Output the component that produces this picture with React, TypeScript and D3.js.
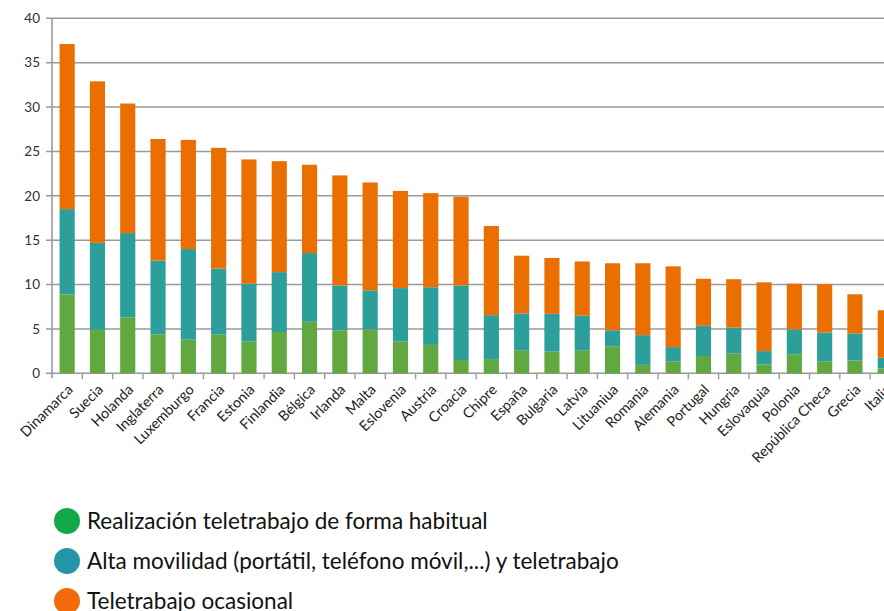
import React from "react";
import * as d3 from "d3";

const countries = ["Dinamarca","Suecia","Holanda","Inglaterra","Luxemburgo","Francia","Estonia","Finlandia","Bélgica","Irlanda","Malta","Eslovenia","Austria","Croacia","Chipre","España","Bulgaria","Latvia","Lituaniua","Romania","Alemania","Portugal","Hungria","Eslovaquia","Polonia","República Checa","Grecia","Italia"];
const habitual = [8.9,4.9,6.3,4.4,3.8,4.4,3.6,4.65,5.8,4.85,4.95,3.6,3.2,1.5,1.6,2.6,2.45,2.6,3.05,0.95,1.35,1.95,2.25,1.0,2.15,1.35,1.45,0.55];
const movilidad = [9.6,9.8,9.5,8.3,10.2,7.4,6.5,6.75,7.75,5.05,4.4,6.0,6.5,8.4,4.95,4.15,4.25,3.9,1.8,3.35,1.6,3.4,2.9,1.5,2.8,3.25,3.05,1.2];
const ocasional = [18.6,18.2,14.6,13.7,12.3,13.6,14.0,12.5,9.95,12.4,12.15,10.95,10.6,10.0,10.05,6.5,6.3,6.1,7.55,8.1,9.1,5.3,5.45,7.75,5.15,5.45,4.4,5.35];
const yTicks = [0,5,10,15,20,25,30,35,40];
const seriesNames = ["Realización teletrabajo de forma habitual","Alta movilidad (portátil, teléfono móvil,...) y teletrabajo","Teletrabajo ocasional"];
const barColors = ["#60a83f","#2d9f9a","#eb6e00"];
const legendColors = ["#12a84a","#2295a6","#f36a0a"];

export default function App() {
  const W = 884, H = 611;
  const x0 = 52, step = 30.3;
  const x = d3.scaleBand<string>().domain(countries).range([x0, x0 + countries.length * step]).paddingInner(0.5).paddingOuter(0.25);
  const y = d3.scaleLinear().domain([0, 40]).range([373.3, 18.3]);
  const rows = countries.map((c, i) => ({ c, habitual: habitual[i], movilidad: movilidad[i], ocasional: ocasional[i] }));
  const stack = d3.stack<any>().keys(["habitual","movilidad","ocasional"]);
  const series = stack(rows);
  const font = "Lato, 'Open Sans', sans-serif";
  return (
    <svg width={W} height={H} style={{ position: "absolute", left: 0, top: 0, background: "#fff" }} fontFamily={font}>
      {yTicks.map(t => (
        <g key={t}>
          <line x1={46} x2={W} y1={y(t)} y2={y(t)} stroke="#9a9a9a" strokeWidth={1.6} />
          <text x={40} y={y(t)} dy="0.35em" textAnchor="end" fontSize={13.5} fill="#333">{t}</text>
        </g>
      ))}
      <line x1={x0} x2={x0} y1={y(40)} y2={y(0) + 5} stroke="#9a9a9a" strokeWidth={1.6} />
      {countries.map((c, i) => (
        <line key={c} x1={x0 + (i + 1) * step} x2={x0 + (i + 1) * step} y1={y(0)} y2={y(0) + 6} stroke="#9a9a9a" strokeWidth={1.4} />
      ))}
      {series.map((s, si) => (
        <g key={si} fill={barColors[si]}>
          {s.map((d, i) => (
            <rect key={i} x={x(countries[i])} width={x.bandwidth()} y={y(d[1])} height={y(d[0]) - y(d[1])} />
          ))}
        </g>
      ))}
      {countries.map(c => {
        const cx = (x(c) as number) + x.bandwidth() / 2 + 3;
        const cy = 387;
        return (
          <text key={c} x={cx} y={cy} textAnchor="end" fontSize={14.3} fill="#222" transform={`rotate(-45 ${cx} ${cy})`} dy="0.35em">{c}</text>
        );
      })}
      {seriesNames.map((n, i) => (
        <g key={n}>
          <circle cx={67} cy={521 + i * 40} r={13} fill={legendColors[i]} />
          <text x={87} y={521 + i * 40} dy="0.36em" fontSize={22.5} fill="#111">{n}</text>
        </g>
      ))}
    </svg>
  );
}
